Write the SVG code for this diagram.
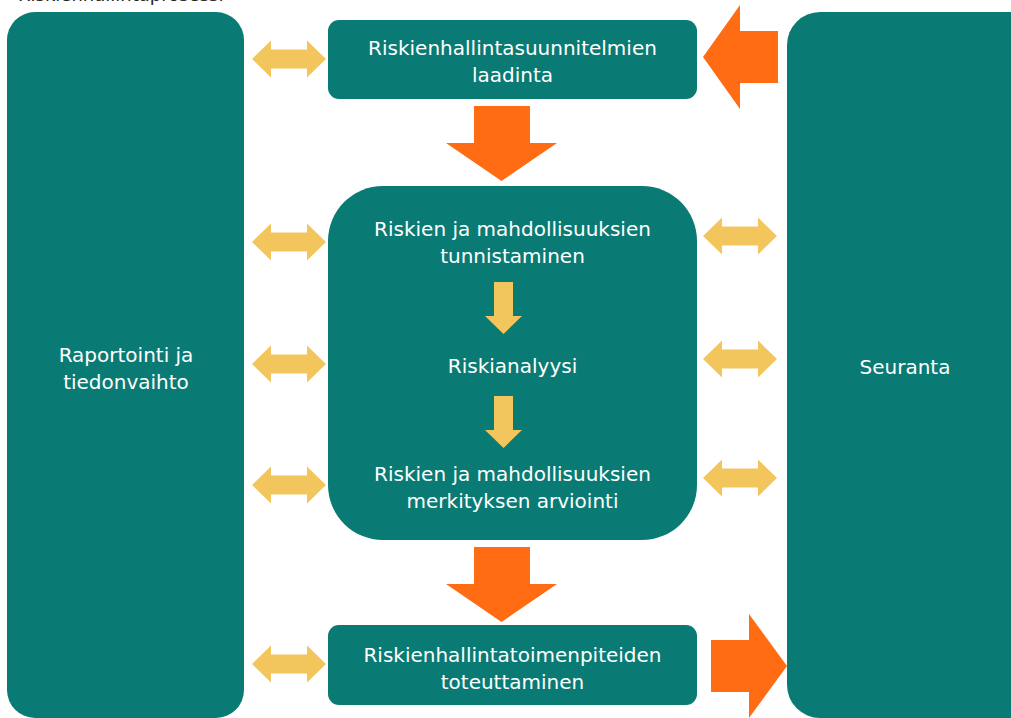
<svg xmlns="http://www.w3.org/2000/svg" width="1011" height="718" viewBox="0 0 1011 718">
<style>
.box{fill:#0A7B74}
.txt{font-family:"DejaVu Sans",Verdana,sans-serif;font-size:20px;fill:#ffffff;text-anchor:middle}
.title{font-family:"DejaVu Sans",Verdana,sans-serif;font-size:18px;fill:#222}
.ya{fill:#F2C65C}
.oa{fill:#FF6C14}
</style>
<defs>
<path id="dbl" d="M0,0 L19,-18.5 L19,-9.5 L55,-9.5 L55,-18.5 L74,0 L55,18.5 L55,9.5 L19,9.5 L19,18.5 Z"/>
</defs>
<rect width="1011" height="718" fill="#ffffff"/>
<text class="title" x="18" y="1">Riskienhallintaprosessi</text>

<g id="raportointi">
<rect class="box" x="7" y="12" width="237" height="706" rx="28"/>
<text class="txt" x="126" y="362">Raportointi ja</text>
<text class="txt" x="126" y="389">tiedonvaihto</text>
</g>
<g id="seuranta">
<rect class="box" x="787" y="12" width="260" height="706" rx="33"/>
<text class="txt" x="905" y="374">Seuranta</text>
</g>
<g id="laadinta">
<rect class="box" x="328" y="20" width="369" height="79" rx="11"/>
<text class="txt" x="512.5" y="55">Riskienhallintasuunnitelmien</text>
<text class="txt" x="512.5" y="82">laadinta</text>
</g>
<g id="arviointi">
<rect class="box" x="328" y="186" width="369" height="354" rx="55"/>
<text class="txt" x="512.5" y="236">Riskien ja mahdollisuuksien</text>
<text class="txt" x="512.5" y="263">tunnistaminen</text>
<text class="txt" x="512.5" y="373">Riskianalyysi</text>
<text class="txt" x="512.5" y="481">Riskien ja mahdollisuuksien</text>
<text class="txt" x="512.5" y="508">merkityksen arviointi</text>
</g>
<g id="toteuttaminen">
<rect class="box" x="328" y="625" width="369" height="80" rx="11"/>
<text class="txt" x="512.5" y="662">Riskienhallintatoimenpiteiden</text>
<text class="txt" x="512.5" y="689">toteuttaminen</text>
</g>

<g id="connectors">
<use href="#dbl" class="ya" x="252" y="59"/>
<use href="#dbl" class="ya" x="252" y="242"/>
<use href="#dbl" class="ya" x="252" y="364"/>
<use href="#dbl" class="ya" x="252" y="485"/>
<use href="#dbl" class="ya" x="252" y="664"/>
<use href="#dbl" class="ya" x="703" y="236"/>
<use href="#dbl" class="ya" x="703" y="359"/>
<use href="#dbl" class="ya" x="703" y="478"/>
<path class="ya" d="M494,282 L513,282 L513,316 L522,316 L503.5,334 L485,316 L494,316 Z"/>
<path class="ya" d="M494,396 L513,396 L513,430 L522,430 L503.5,448 L485,430 L494,430 Z"/>
<path class="oa" d="M474,106 L530,106 L530,143 L557,143 L501.5,181 L446,143 L474,143 Z"/>
<path class="oa" d="M474,547 L530,547 L530,584 L557,584 L501.5,622 L446,584 L474,584 Z"/>
<path class="oa" d="M778,31 L740,31 L740,5 L703,57 L740,109 L740,83 L778,83 Z"/>
<path class="oa" d="M711,640 L749,640 L749,614 L787,666 L749,718 L749,692 L711,692 Z"/>
</g>
</svg>
